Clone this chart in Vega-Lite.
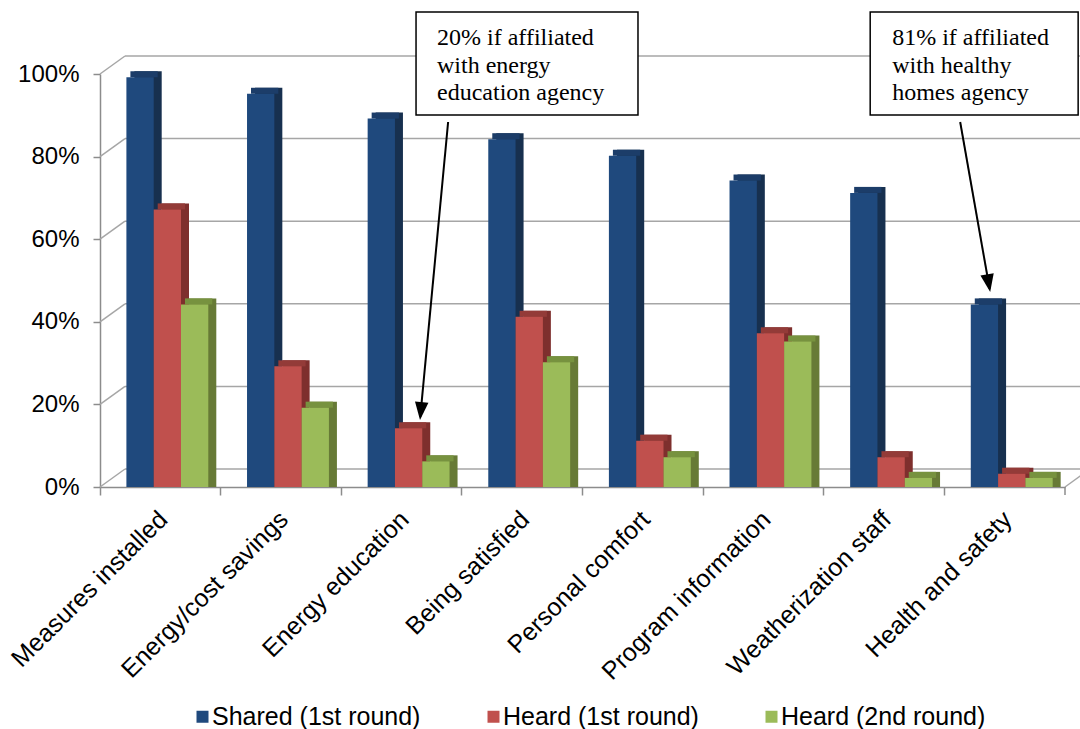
{
  "$schema": "https://vega.github.io/schema/vega-lite/v6.json",
  "width": 965,
  "height": 413,
  "autosize": "none",
  "padding": {"left": 100, "top": 74, "right": 15, "bottom": 242},
  "background": "white",
  "config": {
    "view": {"stroke": null},
    "font": "Liberation Sans",
    "axis": {
      "grid": false,
      "domainColor": "#8c8c8c",
      "tickColor": "#8c8c8c",
      "domainWidth": 1.5,
      "tickWidth": 1.5,
      "labelColor": "black",
      "labelFont": "Liberation Sans",
      "labelFontSize": 24
    }
  },
  "datasets": {
    "responses": [
      {"category": "Measures installed", "series": "Shared (1st round)", "value": 0.98},
      {"category": "Measures installed", "series": "Heard (1st round)", "value": 0.66},
      {"category": "Measures installed", "series": "Heard (2nd round)", "value": 0.43},
      {"category": "Energy/cost savings", "series": "Shared (1st round)", "value": 0.94},
      {"category": "Energy/cost savings", "series": "Heard (1st round)", "value": 0.28},
      {"category": "Energy/cost savings", "series": "Heard (2nd round)", "value": 0.18},
      {"category": "Energy education", "series": "Shared (1st round)", "value": 0.88},
      {"category": "Energy education", "series": "Heard (1st round)", "value": 0.13},
      {"category": "Energy education", "series": "Heard (2nd round)", "value": 0.05},
      {"category": "Being satisfied", "series": "Shared (1st round)", "value": 0.83},
      {"category": "Being satisfied", "series": "Heard (1st round)", "value": 0.40},
      {"category": "Being satisfied", "series": "Heard (2nd round)", "value": 0.29},
      {"category": "Personal comfort", "series": "Shared (1st round)", "value": 0.79},
      {"category": "Personal comfort", "series": "Heard (1st round)", "value": 0.10},
      {"category": "Personal comfort", "series": "Heard (2nd round)", "value": 0.06},
      {"category": "Program information", "series": "Shared (1st round)", "value": 0.73},
      {"category": "Program information", "series": "Heard (1st round)", "value": 0.36},
      {"category": "Program information", "series": "Heard (2nd round)", "value": 0.34},
      {"category": "Weatherization staff", "series": "Shared (1st round)", "value": 0.70},
      {"category": "Weatherization staff", "series": "Heard (1st round)", "value": 0.06},
      {"category": "Weatherization staff", "series": "Heard (2nd round)", "value": 0.01},
      {"category": "Health and safety", "series": "Shared (1st round)", "value": 0.43},
      {"category": "Health and safety", "series": "Heard (1st round)", "value": 0.02},
      {"category": "Health and safety", "series": "Heard (2nd round)", "value": 0.01}
    ],
    "levels": [
      {"level": 0}, {"level": 0.2}, {"level": 0.4}, {"level": 0.6}, {"level": 0.8}, {"level": 1}
    ]
  },
  "layer": [
    {
      "layer": [
        {
          "data": {"name": "levels"},
          "mark": {"type": "rule", "xOffset": 25, "x2Offset": 25, "yOffset": -18, "color": "#a6a6a6", "strokeWidth": 1.5},
          "encoding": {
            "x": {"datum": 0, "type": "quantitative", "scale": {"domain": [0, 8], "nice": false, "zero": false}, "axis": null},
            "x2": {"datum": 8},
            "y": {
              "field": "level", "type": "quantitative",
              "scale": {"domain": [0, 1], "nice": false},
              "axis": {"title": null, "values": [0, 0.2, 0.4, 0.6, 0.8, 1], "format": ".0%", "tickSize": 7, "labelPadding": 14}
            }
          }
        },
        {
          "data": {"name": "levels"},
          "mark": {"type": "rule", "x2Offset": 25, "y2Offset": -18, "color": "#a6a6a6", "strokeWidth": 1.5},
          "encoding": {
            "x": {"datum": 0, "type": "quantitative", "axis": null},
            "x2": {"datum": 0},
            "y": {"field": "level", "type": "quantitative", "title": null},
            "y2": {"field": "level"}
          }
        },
        {
          "data": {"values": [{}]},
          "mark": {"type": "rule", "x2Offset": 25, "y2Offset": -18, "color": "#a6a6a6", "strokeWidth": 1.5},
          "encoding": {
            "x": {"datum": 8, "type": "quantitative", "axis": null},
            "x2": {"datum": 8},
            "y": {"datum": 0, "type": "quantitative"},
            "y2": {"datum": 0}
          }
        },
        {
          "data": {"values": [{}]},
          "mark": {"type": "rule", "y2Offset": 8, "color": "#8c8c8c", "strokeWidth": 1.5},
          "encoding": {
            "x": {"datum": 8, "type": "quantitative", "axis": null},
            "y": {"datum": 0, "type": "quantitative"},
            "y2": {"datum": 0}
          }
        }
      ]
    },
    {
      "data": {"name": "responses"},
      "encoding": {
        "x": {
          "field": "category", "type": "nominal", "sort": null,
          "scale": {"paddingInner": 0, "paddingOuter": 0},
          "axis": {"title": null, "bandPosition": 0, "labelAngle": -45, "labelAlign": "right", "labelBaseline": "middle", "labelOffset": 3, "labelPadding": 20, "labelFontSize": 25, "tickSize": 8, "labelLimit": 400}
        }
      },
      "layer": [
        {
          "mark": {"type": "bar", "yOffset": -11, "y2Offset": -11},
          "encoding": {
            "xOffset": {"field": "series", "type": "nominal", "sort": null, "scale": {"paddingInner": 0, "paddingOuter": 0, "range": [34.4, 116.3]}},
            "y": {"field": "value", "type": "quantitative", "stack": null, "title": null},
            "color": {
              "field": "series", "type": "nominal", "sort": null,
              "scale": {"domain": ["Shared (1st round)", "Heard (1st round)", "Heard (2nd round)"], "range": ["#17304f", "#7e2f2d", "#677a36"]},
              "legend": null
            }
          }
        },
        {
          "mark": {"type": "bar", "yOffset": -11, "y2Offset": -5},
          "encoding": {
            "xOffset": {"field": "series", "type": "nominal", "sort": null, "scale": {"paddingInner": 0, "paddingOuter": 0, "range": [30.4, 112.3]}},
            "y": {"field": "value", "type": "quantitative", "stack": null, "title": null},
            "y2": {"field": "value"},
            "color": {
              "field": "series", "type": "nominal", "sort": null,
              "scale": {"domain": ["Shared (1st round)", "Heard (1st round)", "Heard (2nd round)"], "range": ["#1c3d69", "#933b38", "#77923f"]},
              "legend": null
            }
          }
        },
        {
          "mark": {"type": "bar", "yOffset": -5, "y2Offset": -5},
          "encoding": {
            "xOffset": {"field": "series", "type": "nominal", "sort": null, "scale": {"paddingInner": 0, "paddingOuter": 0, "range": [26.4, 108.3]}},
            "y": {"field": "value", "type": "quantitative", "stack": null, "title": null},
            "color": {
              "field": "series", "type": "nominal", "sort": null,
              "scale": {"domain": ["Shared (1st round)", "Heard (1st round)", "Heard (2nd round)"], "range": ["#1f497d", "#c0504d", "#9bbb59"]},
              "legend": {
                "orient": "none", "direction": "horizontal", "legendX": 90, "legendY": 630,
                "title": null, "symbolType": "square", "symbolSize": 144, "symbolStrokeWidth": 0,
                "labelFontSize": 25, "labelLimit": 400, "labelOffset": -3, "columnPadding": 60, "labelColor": "black"
              }
            }
          }
        }
      ],
      "resolve": {"scale": {"color": "independent", "xOffset": "independent"}}
    },
    {
      "data": {"values": [{}]},
      "layer": [
        {
          "mark": {"type": "rect", "fill": "white", "stroke": "black", "strokeWidth": 1.5},
          "encoding": {
            "x": {"datum": 2.62, "type": "quantitative", "scale": {"domain": [0, 8], "nice": false, "zero": false}, "axis": null},
            "x2": {"datum": 4.46},
            "y": {"datum": 0.9007, "type": "quantitative"},
            "y2": {"datum": 1.15}
          }
        },
        {
          "mark": {"type": "text", "align": "left", "baseline": "alphabetic", "font": "Liberation Serif", "fontSize": 24, "lineHeight": 27.5, "color": "black"},
          "encoding": {
            "x": {"datum": 2.794, "type": "quantitative", "axis": null},
            "y": {"datum": 1.07, "type": "quantitative"},
            "text": {"value": ["20% if affiliated", "with energy", "education agency"]}
          }
        },
        {
          "mark": {"type": "rule", "color": "black", "strokeWidth": 2},
          "encoding": {
            "x": {"datum": 2.886, "type": "quantitative", "axis": null},
            "x2": {"datum": 2.655},
            "y": {"datum": 0.8838, "type": "quantitative"},
            "y2": {"datum": 0.17}
          }
        },
        {
          "mark": {"type": "point", "shape": "M -0.75 -2 L 0.75 -2 L 0 0 Z", "size": 324, "filled": true, "color": "black", "opacity": 1, "angle": 5.4},
          "encoding": {
            "x": {"datum": 2.653, "type": "quantitative", "axis": null},
            "y": {"datum": 0.162, "type": "quantitative"}
          }
        },
        {
          "mark": {"type": "rect", "fill": "white", "stroke": "black", "strokeWidth": 1.5},
          "encoding": {
            "x": {"datum": 6.385, "type": "quantitative", "axis": null},
            "x2": {"datum": 8.109},
            "y": {"datum": 0.9007, "type": "quantitative"},
            "y2": {"datum": 1.15}
          }
        },
        {
          "mark": {"type": "text", "align": "left", "baseline": "alphabetic", "font": "Liberation Serif", "fontSize": 24, "lineHeight": 27.5, "color": "black"},
          "encoding": {
            "x": {"datum": 6.567, "type": "quantitative", "axis": null},
            "y": {"datum": 1.07, "type": "quantitative"},
            "text": {"value": ["81% if affiliated", "with healthy", "homes agency"]}
          }
        },
        {
          "mark": {"type": "rule", "color": "black", "strokeWidth": 2},
          "encoding": {
            "x": {"datum": 7.131, "type": "quantitative", "axis": null},
            "x2": {"datum": 7.375},
            "y": {"datum": 0.8838, "type": "quantitative"},
            "y2": {"datum": 0.48}
          }
        },
        {
          "mark": {"type": "point", "shape": "M -0.75 -2 L 0.75 -2 L 0 0 Z", "size": 324, "filled": true, "color": "black", "opacity": 1, "angle": -10},
          "encoding": {
            "x": {"datum": 7.38, "type": "quantitative", "axis": null},
            "y": {"datum": 0.472, "type": "quantitative"}
          }
        }
      ]
    }
  ],
  "resolve": {"scale": {"x": "independent", "color": "independent"}}
}
